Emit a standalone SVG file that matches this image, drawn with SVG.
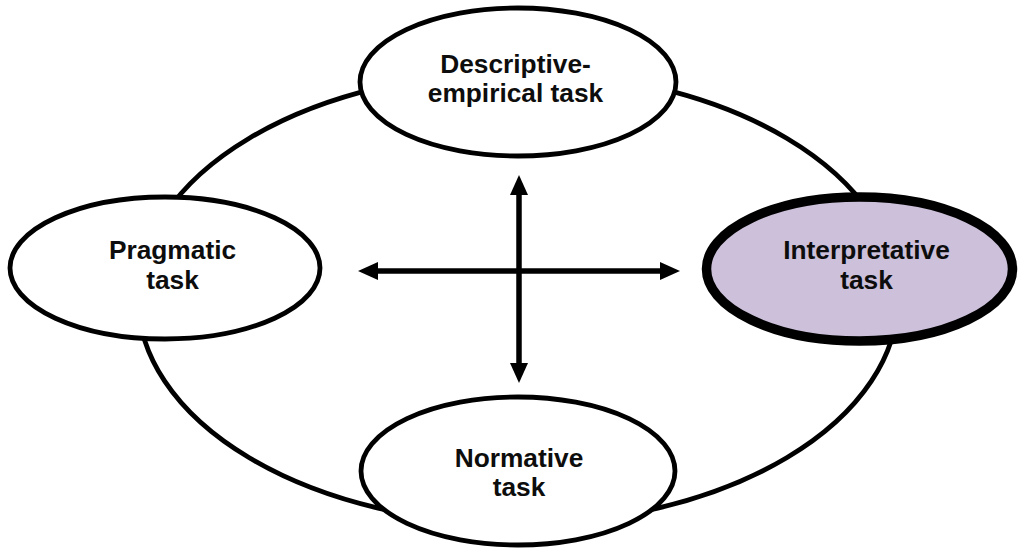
<svg xmlns="http://www.w3.org/2000/svg" width="1019" height="553" viewBox="0 0 1019 553">
<style>
.node{fill:#ffffff;stroke:#000;stroke-width:4.8}
.hl{fill:#ccc0da;stroke:#000;stroke-width:9.5}
.ring{fill:none;stroke:#000;stroke-width:4.8}
.lbl{font-family:"Liberation Sans",Arial,sans-serif;font-weight:bold;font-size:26.3px;fill:#0d0d0d;text-anchor:middle}
.arr{fill:none;stroke:#000;stroke-width:5.5;marker-start:url(#ah);marker-end:url(#ah)}
</style>
<defs>
<marker id="ah" markerUnits="userSpaceOnUse" markerWidth="20" markerHeight="18" refX="0" refY="9" orient="auto-start-reverse" viewBox="0 0 20 18">
<path d="M0,0 L20,9 L0,18 z" fill="#000"/>
</marker>
</defs>
<rect width="1019" height="553" fill="#fff"/>
<g id="connectors">
<ellipse class="ring" cx="518" cy="298" rx="380" ry="226"/>
<path class="arr" d="M378,271 L660,271"/>
<path class="arr" d="M519,195 L519,363"/>
</g>
<g id="node-descriptive">
<ellipse class="node" cx="518" cy="82" rx="158" ry="74"/>
<text class="lbl" x="515.5" y="73">Descriptive-</text>
<text class="lbl" x="515.5" y="101.5">empirical task</text>
</g>
<g id="node-pragmatic">
<ellipse class="node" cx="165" cy="268" rx="155" ry="71"/>
<text class="lbl" x="172.5" y="259.3">Pragmatic</text>
<text class="lbl" x="172.5" y="288.5">task</text>
</g>
<g id="node-interpretative">
<ellipse class="hl" cx="859.5" cy="269" rx="153" ry="72"/>
<text class="lbl" x="866.5" y="259.3">Interpretative</text>
<text class="lbl" x="866.5" y="289">task</text>
</g>
<g id="node-normative">
<ellipse class="node" cx="518" cy="471" rx="157" ry="74"/>
<text class="lbl" x="519" y="467">Normative</text>
<text class="lbl" x="519" y="496">task</text>
</g>
</svg>
